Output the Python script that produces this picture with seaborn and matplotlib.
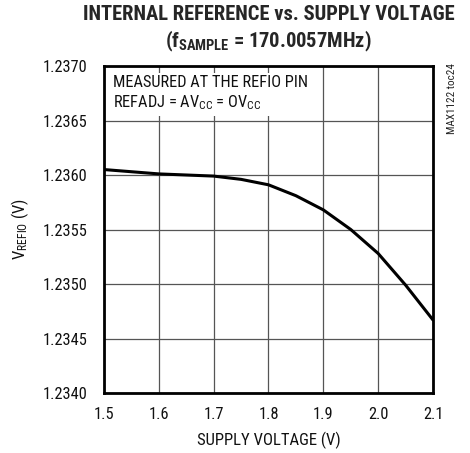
import matplotlib
matplotlib.use("Agg")
import matplotlib.pyplot as plt
import seaborn as sns
import pandas as pd
from matplotlib import font_manager

supply_v = [1.50, 1.55, 1.60, 1.65, 1.70, 1.75, 1.80, 1.85, 1.90, 1.95, 2.00, 2.05, 2.10]
vrefio = [1.23605, 1.23603, 1.23601, 1.23600, 1.23599, 1.23596, 1.23591, 1.23581,
          1.23568, 1.23550, 1.23528, 1.23499, 1.23467]
x_ticks = [1.5, 1.6, 1.7, 1.8, 1.9, 2.0, 2.1]
y_ticks = [1.2340, 1.2345, 1.2350, 1.2355, 1.2360, 1.2365, 1.2370]
y_tick_labels = ["1.2340", "1.2345", "1.2350", "1.2355", "1.2360", "1.2365", "1.2370"]
x_tick_labels = ["1.5", "1.6", "1.7", "1.8", "1.9", "2.0", "2.1"]

sns.set_style("white")
names = {f.name for f in font_manager.fontManager.ttflist}
fam = "DejaVu Sans"
for cand in ["Liberation Sans Narrow", "Roboto Condensed", "Open Sans Condensed", "Liberation Sans", "Roboto"]:
    if cand in names:
        fam = cand
        break
plt.rcParams["font.family"] = [fam, "DejaVu Sans"]
plt.rcParams["mathtext.fontset"] = "custom"
plt.rcParams["mathtext.rm"] = fam
plt.rcParams["mathtext.it"] = fam
plt.rcParams["mathtext.bf"] = fam + ":bold"

df = pd.DataFrame({"v": supply_v, "ref": vrefio})

fig = plt.figure(figsize=(4.7, 4.53), dpi=100)
ax = fig.add_axes([104/470, 1 - 393/453, (433-104)/470, (393-66)/453])

sns.lineplot(data=df, x="v", y="ref", ax=ax, color="black", linewidth=2.2, zorder=3)

ax.set_xlim(1.5, 2.1)
ax.set_ylim(1.2340, 1.2370)
ax.set_xticks(x_ticks)
ax.set_xticklabels(x_tick_labels)
ax.set_yticks(y_ticks)
ax.set_yticklabels(y_tick_labels)
ax.grid(True, color="#555555", linewidth=0.9, zorder=1)
ax.set_axisbelow(True)
for s in ax.spines.values():
    s.set_visible(True)
    s.set_color("black")
    s.set_linewidth(2.0)
ax.tick_params(axis="y", length=3, width=0.9, pad=9, labelsize=11.8, colors="black")
ax.tick_params(axis="x", length=0, pad=10, labelsize=11.8, colors="black")
for lbl in ax.get_xticklabels() + ax.get_yticklabels():
    lbl.set_color("#111111")

ax.set_xlabel("SUPPLY VOLTAGE (V)", fontsize=12, labelpad=7, color="#111111")
ax.set_ylabel(r"V$_{\mathrm{REFIO}}$ (V)", fontsize=12, labelpad=8, color="#111111")

ax.text(0.028, 0.972, "MEASURED AT THE REFIO PIN\n" + r"REFADJ = AV$_{\mathrm{CC}}$ = OV$_{\mathrm{CC}}$",
        transform=ax.transAxes, ha="left", va="top", fontsize=11.8, color="#111111",
        linespacing=1.25, zorder=4,
        bbox=dict(facecolor="white", edgecolor="none", pad=2.5))

fig.text(268.5/470, 1 - 14/453, "INTERNAL REFERENCE vs. SUPPLY VOLTAGE", ha="center", va="center",
         fontsize=14.8, fontweight="bold")
fig.text(268.5/470, 1 - 41/453, r"(f$_{\mathbf{SAMPLE}}$ = 170.0057MHz)", ha="center", va="center",
         fontsize=14.8, fontweight="bold")

fig.text(452/470, 1 - 63/453, "MAX1122 toc24", rotation=90, ha="center", va="top",
         fontsize=8, color="#222222")

fig.savefig("out.png", dpi=100)
